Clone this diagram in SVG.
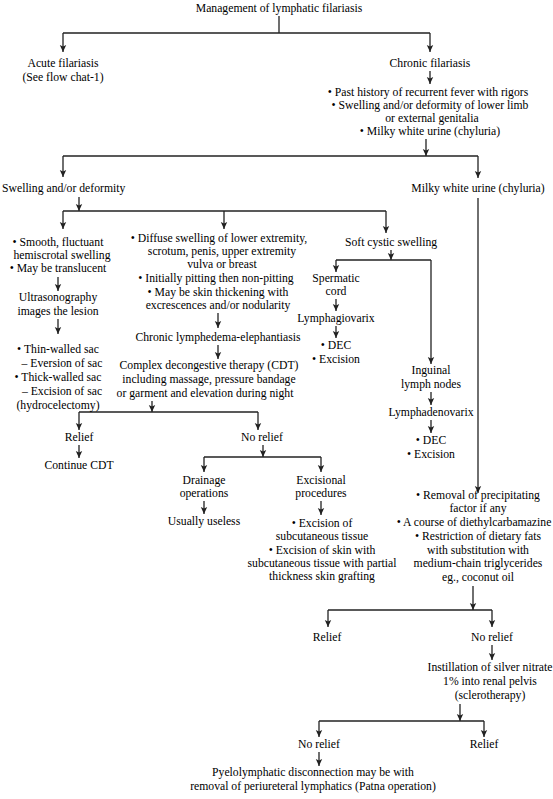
<svg xmlns="http://www.w3.org/2000/svg" width="553" height="799" viewBox="0 0 553 799">
<style>
text{font-family:"Liberation Serif","Times New Roman",serif;font-size:11.7px;fill:#000;text-anchor:middle}
.l{text-anchor:start}
.c line,.c path{stroke:#222;stroke-width:1.3;fill:none}
.a{marker-end:url(#ah)}
</style>
<defs>
<marker id="ah" markerUnits="userSpaceOnUse" markerWidth="8" markerHeight="8" viewBox="0 0 8 8" refX="7" refY="4" orient="auto">
<path d="M0,0.8 L7,4 L0,7.2 L1.5,4 z" fill="#222" stroke="none"/>
</marker>
</defs>
<rect width="553" height="799" fill="#fff"/>
<g class="c" id="connectors">
<path d="M279,16 V33 M63,33 H430"/>
<line class="a" x1="63" y1="33" x2="63" y2="52"/>
<line class="a" x1="430" y1="33" x2="430" y2="52"/>
<line class="a" x1="430" y1="71" x2="430" y2="84"/>
<line class="a" x1="426" y1="139" x2="426" y2="156"/>
<path d="M63,156 H478"/>
<line class="a" x1="63" y1="156" x2="63" y2="177"/>
<line class="a" x1="478" y1="156" x2="478" y2="178"/>
<line class="a" x1="79" y1="197" x2="79" y2="211"/>
<path d="M63,211 H386"/>
<line class="a" x1="63" y1="211" x2="63" y2="229"/>
<line class="a" x1="224" y1="211" x2="224" y2="229"/>
<line class="a" x1="386" y1="211" x2="386" y2="233"/>
<line class="a" x1="478" y1="198" x2="478" y2="493"/>
<line class="a" x1="58" y1="277" x2="58" y2="291"/>
<line class="a" x1="58" y1="319" x2="58" y2="334"/>
<line class="a" x1="218" y1="313" x2="218" y2="328"/>
<line class="a" x1="218" y1="345" x2="218" y2="359"/>
<line class="a" x1="152" y1="401" x2="152" y2="412"/>
<path d="M79,412 H258"/>
<line class="a" x1="79" y1="412" x2="79" y2="430"/>
<line class="a" x1="258" y1="412" x2="258" y2="430"/>
<line class="a" x1="79" y1="445" x2="79" y2="458"/>
<line class="a" x1="263" y1="445" x2="263" y2="457"/>
<path d="M204,457 H321"/>
<line class="a" x1="204" y1="457" x2="204" y2="472"/>
<line class="a" x1="321" y1="457" x2="321" y2="472"/>
<line class="a" x1="204" y1="501" x2="204" y2="514"/>
<line class="a" x1="321" y1="501" x2="321" y2="515"/>
<line class="a" x1="391" y1="250" x2="391" y2="260"/>
<path d="M336,260 H431"/>
<line class="a" x1="336" y1="260" x2="336" y2="272"/>
<line class="a" x1="431" y1="260" x2="431" y2="364"/>
<line class="a" x1="336" y1="299" x2="336" y2="311"/>
<line class="a" x1="336" y1="326" x2="336" y2="338"/>
<line class="a" x1="431" y1="392" x2="431" y2="405"/>
<line class="a" x1="431" y1="420" x2="431" y2="433"/>
<line class="a" x1="473" y1="586" x2="473" y2="610"/>
<path d="M328,610 H492"/>
<line class="a" x1="328" y1="610" x2="328" y2="627"/>
<line class="a" x1="492" y1="610" x2="492" y2="627"/>
<line class="a" x1="492" y1="645" x2="492" y2="660"/>
<line class="a" x1="460" y1="704" x2="460" y2="721"/>
<path d="M319,721 H484"/>
<line class="a" x1="319" y1="721" x2="319" y2="737"/>
<line class="a" x1="484" y1="721" x2="484" y2="737"/>
<line class="a" x1="319" y1="752" x2="319" y2="766"/>
</g>
<g id="n_title"><text x="279" y="12">Management of lymphatic filariasis</text></g>
<g id="n_acute"><text x="63" y="67">Acute filariasis</text><text x="63" y="81">(See flow chat-1)</text></g>
<g id="n_chronic"><text x="430" y="67">Chronic filariasis</text></g>
<g id="n_features">
<text x="428" y="96">• Past history of recurrent fever with rigors</text>
<text x="430" y="109">• Swelling and/or deformity of lower limb</text>
<text x="432" y="122">or external genitalia</text>
<text x="430" y="135">• Milky white urine (chyluria)</text>
</g>
<g id="n_swelling"><text class="l" x="2" y="192">Swelling and/or deformity</text></g>
<g id="n_milky"><text x="478" y="192">Milky white urine (chyluria)</text></g>
<g id="n_hydrocele">
<text x="58" y="246">• Smooth, fluctuant</text>
<text x="62" y="259">hemiscrotal swelling</text>
<text x="58" y="272">• May be translucent</text>
</g>
<g id="n_usg"><text x="58" y="301">Ultrasonography</text><text x="58" y="315">images the lesion</text></g>
<g id="n_sac">
<text x="58" y="353">• Thin-walled sac</text>
<text x="62" y="367">– Eversion of sac</text>
<text x="58" y="381">• Thick-walled sac</text>
<text x="62" y="395">– Excision of sac</text>
<text x="58" y="409">(hydrocelectomy)</text>
</g>
<g id="n_diffuse">
<text x="219" y="242">• Diffuse swelling of lower extremity,</text>
<text x="222" y="255">scrotum, penis, upper extremity</text>
<text x="222" y="268">vulva or breast</text>
<text x="216" y="282">• Initially pitting then non-pitting</text>
<text x="218" y="296">• May be skin thickening with</text>
<text x="218" y="309">excrescences and/or nodularity</text>
</g>
<g id="n_elephantiasis"><text x="218" y="341">Chronic lymphedema-elephantiasis</text></g>
<g id="n_cdt">
<text x="209" y="369">Complex decongestive therapy (CDT)</text>
<text x="209" y="383">including massage, pressure bandage</text>
<text x="205" y="397">or garment and elevation during night</text>
</g>
<g id="n_relief1"><text x="79" y="441">Relief</text></g>
<g id="n_continue"><text x="79" y="469">Continue CDT</text></g>
<g id="n_norelief1"><text x="262" y="441">No relief</text></g>
<g id="n_drainage"><text x="204" y="484">Drainage</text><text x="204" y="497">operations</text></g>
<g id="n_useless"><text x="204" y="525">Usually useless</text></g>
<g id="n_excisional"><text x="321" y="484">Excisional</text><text x="321" y="497">procedures</text></g>
<g id="n_excision_list">
<text x="322" y="527">• Excision of</text>
<text x="322" y="540">subcutaneous tissue</text>
<text x="322" y="554">• Excision of skin with</text>
<text x="322" y="567">subcutaneous tissue with partial</text>
<text x="322" y="580">thickness skin grafting</text>
</g>
<g id="n_soft"><text x="391" y="246">Soft cystic swelling</text></g>
<g id="n_spermatic"><text x="336" y="282">Spermatic</text><text x="336" y="295">cord</text></g>
<g id="n_lymphagio"><text x="336" y="322">Lymphagiovarix</text></g>
<g id="n_dec1"><text x="336" y="349">• DEC</text><text x="336" y="363">• Excision</text></g>
<g id="n_inguinal"><text x="431" y="374">Inguinal</text><text x="431" y="388">lymph nodes</text></g>
<g id="n_lymphadeno"><text x="431" y="416">Lymphadenovarix</text></g>
<g id="n_dec2"><text x="431" y="444">• DEC</text><text x="431" y="458">• Excision</text></g>
<g id="n_chyluria_mgmt">
<text x="478" y="499">• Removal of precipitating</text>
<text x="478" y="512">factor if any</text>
<text x="474" y="526">• A course of diethylcarbamazine</text>
<text x="478" y="540">• Restriction of dietary fats</text>
<text x="478" y="554">with substitution with</text>
<text x="478" y="567">medium-chain triglycerides</text>
<text x="478" y="581">eg., coconut oil</text>
</g>
<g id="n_relief2"><text x="327" y="641">Relief</text></g>
<g id="n_norelief2"><text x="492" y="641">No relief</text></g>
<g id="n_silver">
<text x="490" y="671">Instillation of silver nitrate</text>
<text x="490" y="685">1% into renal pelvis</text>
<text x="490" y="699">(sclerotherapy)</text>
</g>
<g id="n_norelief3"><text x="319" y="748">No relief</text></g>
<g id="n_relief3"><text x="484" y="748">Relief</text></g>
<g id="n_patna">
<text x="313" y="776">Pyelolymphatic disconnection may be with</text>
<text x="313" y="790">removal of periureteral lymphatics (Patna operation)</text>
</g>
</svg>
